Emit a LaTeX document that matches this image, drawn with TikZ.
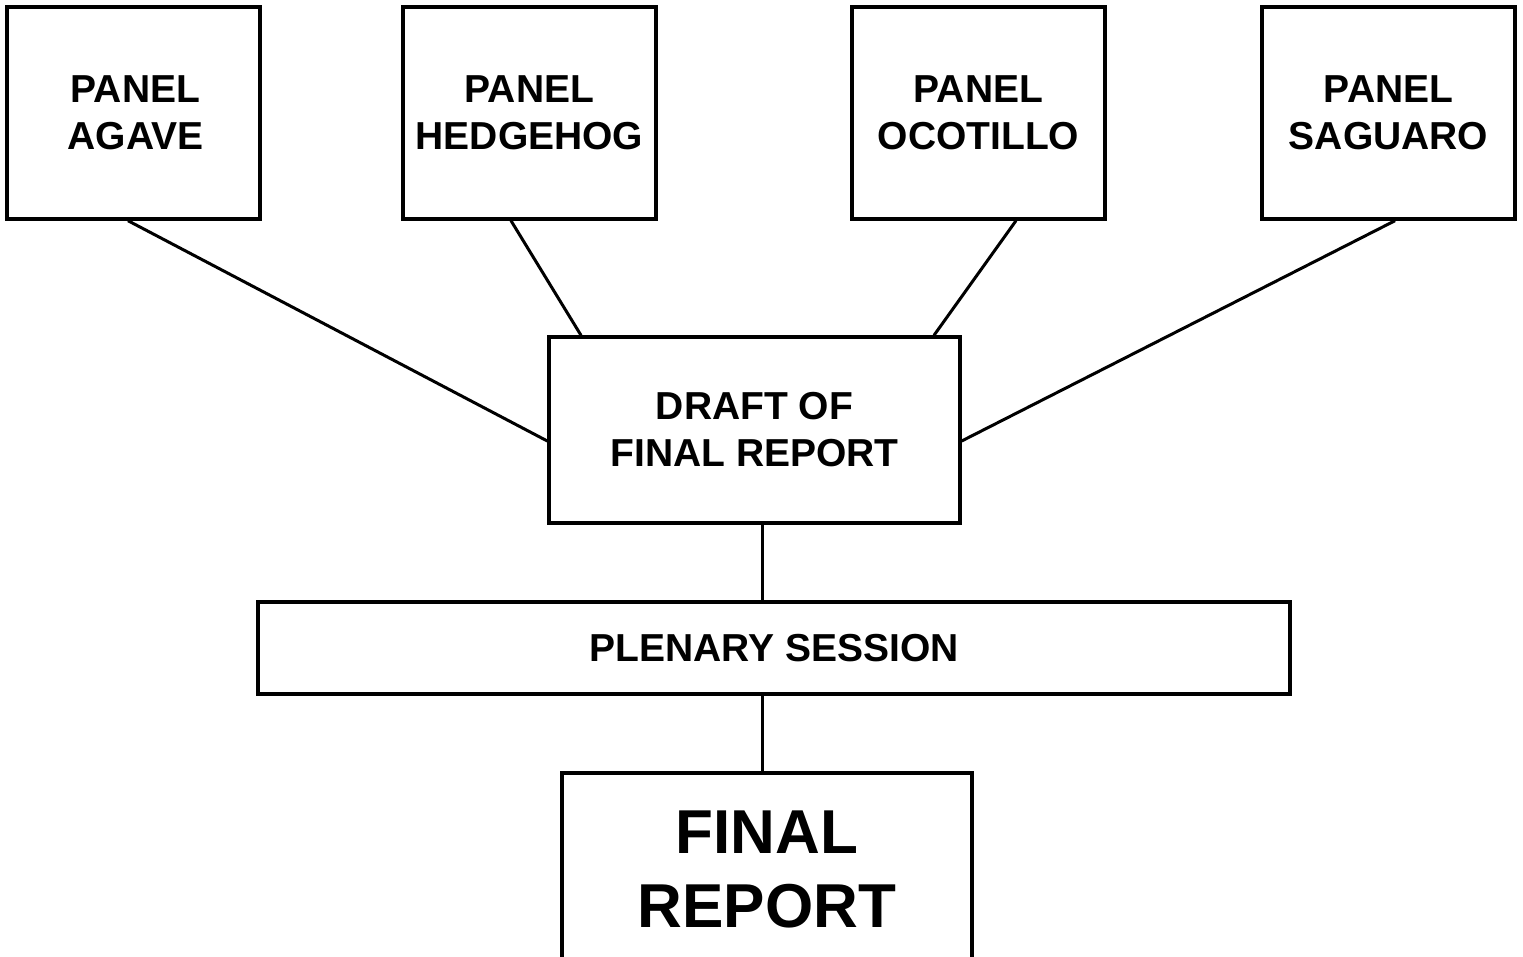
\documentclass[tikz,border=0pt]{standalone}
\usepackage{fontspec}
\setmainfont{Liberation Sans}
\usetikzlibrary{calc}
\begin{document}
\begin{tikzpicture}[x=1pt,y=-1pt,
  box/.style={draw=black,line width=3.4pt,fill=white,inner sep=0pt,align=center,
    font=\bfseries\fontsize{39}{47}\selectfont},
  panel/.style={box,minimum width=253pt,minimum height=212pt},
  link/.style={draw=black,line width=3pt}]
\useasboundingbox (0,0) rectangle (1523,957);
\clip (0,0) rectangle (1523,957);
\node[panel] (agave) at (133.5,113) {\hspace*{4pt}PANEL\\\hspace*{4pt}AGAVE};
\node[panel] (hedgehog) at (529.5,113) {PANEL\\HEDGEHOG};
\node[panel] (ocotillo) at (978.5,113) {PANEL\\OCOTILLO};
\node[panel] (saguaro) at (1388.5,113) {PANEL\\SAGUARO};
\node[box,minimum width=411pt,minimum height=186pt] (draft) at (754.5,430) {DRAFT OF\\FINAL REPORT};
\node[box,minimum width=1032pt,minimum height=92pt] (plenary) at (774,648) {PLENARY SESSION};
\node[box,minimum width=410pt,minimum height=192pt,
  font=\bfseries\fontsize{62}{74}\selectfont] (final) at (767,869) {FINAL\\REPORT};
\coordinate (vx) at (762,0);
\draw[link] ($(agave.south)+(-5.5,0)$) -- ($(draft.west)+(0,11)$);
\draw[link] ($(hedgehog.south)+(-18.5,0)$) -- ($(draft.north)+(-173.5,0)$);
\draw[link] ($(ocotillo.south)+(37.5,0)$) -- ($(draft.north)+(179.5,0)$);
\draw[link] ($(saguaro.south)+(6.5,0)$) -- ($(draft.east)+(0,11)$);
\draw[link] (draft.south -| vx) -- (plenary.north -| vx);
\draw[link] (plenary.south -| vx) -- (final.north -| vx);
\end{tikzpicture}
\end{document}
